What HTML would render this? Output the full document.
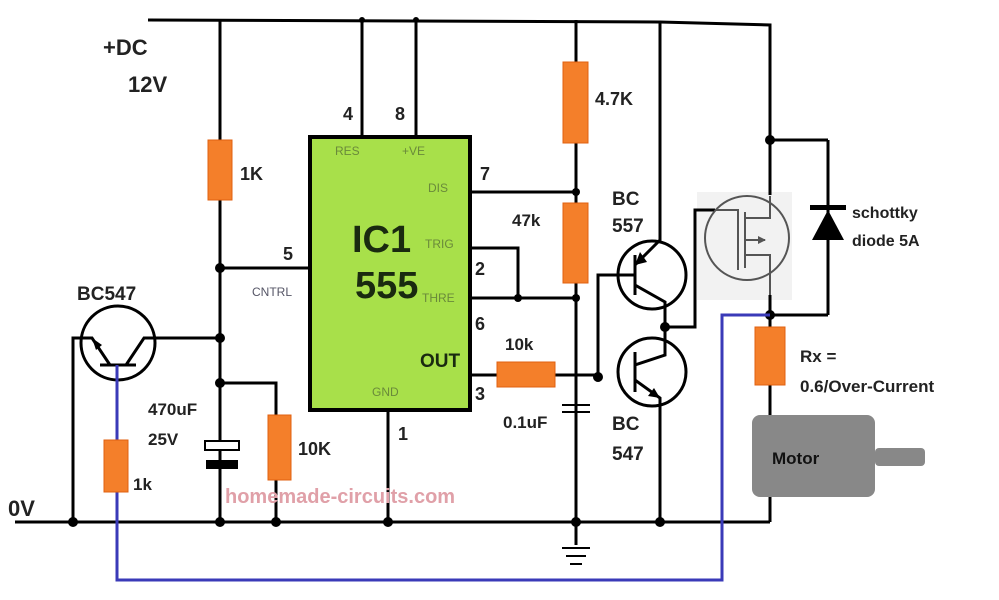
<!DOCTYPE html>
<html><head><style>
body{margin:0;background:#fff}
svg{display:block}
text{font-family:"Liberation Sans",sans-serif;font-weight:bold}
</style></head><body>
<svg width="999" height="600" viewBox="0 0 999 600" xmlns="http://www.w3.org/2000/svg">
<rect width="999" height="600" fill="#fff"/>
<rect x="697" y="192" width="95" height="108" fill="#f2f2f2"/>
<g stroke="#000" stroke-width="3" fill="none">
<polyline points="148,20 660,22 770,25 770,195"/>
<line x1="770" y1="295" x2="770" y2="330"/>
<line x1="770" y1="385" x2="770" y2="522"/>
<line x1="15" y1="522" x2="770" y2="522"/>
<line x1="220" y1="20" x2="220" y2="522"/>
<line x1="362" y1="20" x2="362" y2="137"/>
<line x1="416" y1="20" x2="416" y2="137"/>
<line x1="220" y1="268" x2="310" y2="268"/>
<line x1="470" y1="192" x2="576" y2="192"/>
<polyline points="470,248 518,248 518,298"/>
<line x1="470" y1="298" x2="576" y2="298"/>
<line x1="470" y1="375" x2="600" y2="375"/>
<line x1="388" y1="410" x2="388" y2="522"/>
<line x1="576" y1="20" x2="576" y2="545"/>
<circle cx="118" cy="343" r="37"/>
<line x1="100" y1="365" x2="136" y2="365"/>
<polyline points="110,365 92,338 73,338 73,522"/>
<polyline points="126,365 144,338 220,338"/>
<polyline points="220,383 276,383 276,415"/>
<line x1="276" y1="480" x2="276" y2="522"/>
<circle cx="652" cy="275" r="34"/>
<circle cx="652" cy="372" r="34"/>
<line x1="635" y1="255" x2="635" y2="295"/>
<line x1="635" y1="352" x2="635" y2="392"/>
<polyline points="660,22 660,240 635,265"/>
<polyline points="635,285 665,302 665,355 635,365"/>
<polyline points="635,380 660,398 660,522"/>
<polyline points="665,327 695,327 695,210 715,210"/>
<polyline points="635,275 598,275 598,377"/>
<line x1="770" y1="140" x2="828" y2="140"/>
<line x1="828" y1="140" x2="828" y2="315"/>
<line x1="770" y1="315" x2="828" y2="315"/>
</g>
<g fill="#000">
<circle cx="220" cy="268" r="5"/><circle cx="220" cy="338" r="5"/><circle cx="220" cy="383" r="5"/><circle cx="220" cy="522" r="5"/><circle cx="73" cy="522" r="5"/><circle cx="276" cy="522" r="5"/><circle cx="388" cy="522" r="5"/><circle cx="576" cy="522" r="5"/><circle cx="660" cy="522" r="5"/><circle cx="576" cy="192" r="4"/><circle cx="576" cy="298" r="4"/><circle cx="518" cy="298" r="4"/><circle cx="665" cy="327" r="5"/><circle cx="598" cy="377" r="5"/><circle cx="770" cy="315" r="5"/><circle cx="770" cy="140" r="5"/><circle cx="362" cy="20" r="3"/><circle cx="416" cy="20" r="3"/>
<polygon points="92,338 102,345 96,350"/>
<polygon points="660,398 648,396 654,388"/>
<polygon points="635,265 640,252 647,262"/>
<polygon points="812,240 844,240 828,210"/>
<rect x="810" y="205" width="36" height="5"/>
</g>
<g stroke="#555" stroke-width="2" fill="none">
<circle cx="747" cy="238" r="42"/>
<polyline points="715,210 738,210 738,270"/>
<line x1="745" y1="212" x2="745" y2="268"/>
<polyline points="745,218 770,218 770,196"/>
<polyline points="745,255 770,255 770,295"/>
<line x1="745" y1="240" x2="765" y2="240"/>
</g>
<polygon points="766,240 758,236 758,244" fill="#555"/>
<polyline points="117,365 117,580 722,580 722,315 770,315" stroke="#3a3ab8" stroke-width="3" fill="none"/>
<rect x="310" y="137" width="160" height="273" fill="#a8e04a" stroke="#000" stroke-width="4"/>
<g fill="#6a8a3a" font-size="12">
<text x="335" y="155" style="font-weight:normal">RES</text><text x="402" y="155" style="font-weight:normal">+VE</text>
<text x="428" y="192" style="font-weight:normal">DIS</text><text x="425" y="248" style="font-weight:normal">TRIG</text><text x="422" y="302" style="font-weight:normal">THRE</text><text x="372" y="396" style="font-weight:normal">GND</text>
<text x="252" y="296" fill="#556" style="font-weight:normal">CNTRL</text>
</g>
<text x="352" y="252" font-size="38" fill="#1a2a10">IC1</text>
<text x="355" y="298" font-size="38" fill="#1a2a10">555</text>
<text x="420" y="367" font-size="19" fill="#1a2a10">OUT</text>
<g fill="#f47f2a" stroke="#e06010" stroke-width="1">
<rect x="208" y="140" width="24" height="60"/>
<rect x="563" y="62" width="25" height="81"/>
<rect x="563" y="203" width="25" height="80"/>
<rect x="497" y="362" width="58" height="25"/>
<rect x="104" y="440" width="24" height="52"/>
<rect x="268" y="415" width="23" height="65"/>
<rect x="755" y="327" width="30" height="58"/>
</g>
<rect x="205" y="441" width="34" height="9" fill="#fff" stroke="#000" stroke-width="2"/>
<rect x="206" y="460" width="32" height="9" fill="#000"/>
<g stroke="#000" stroke-width="2">
<line x1="562" y1="405" x2="590" y2="405"/><line x1="562" y1="412" x2="590" y2="412"/>
<line x1="562" y1="548" x2="590" y2="548"/><line x1="566" y1="556" x2="586" y2="556"/><line x1="570" y1="564" x2="582" y2="564"/>
</g>
<rect x="752" y="415" width="123" height="82" rx="8" fill="#888"/>
<rect x="875" y="448" width="50" height="18" rx="4" fill="#888"/>
<text x="772" y="464" font-size="17" fill="#111">Motor</text>
<g fill="#222">
<text x="103" y="55" font-size="22">+DC</text>
<text x="128" y="92" font-size="22">12V</text>
<text x="240" y="180" font-size="18">1K</text>
<text x="343" y="120" font-size="18">4</text><text x="395" y="120" font-size="18">8</text>
<text x="283" y="260" font-size="18">5</text><text x="480" y="180" font-size="18">7</text><text x="475" y="275" font-size="18">2</text><text x="475" y="330" font-size="18">6</text><text x="475" y="400" font-size="18">3</text><text x="398" y="440" font-size="18">1</text>
<text x="595" y="105" font-size="18">4.7K</text>
<text x="512" y="226" font-size="17">47k</text>
<text x="505" y="350" font-size="17">10k</text>
<text x="503" y="428" font-size="17">0.1uF</text>
<text x="612" y="205" font-size="19">BC</text><text x="612" y="232" font-size="19">557</text>
<text x="612" y="430" font-size="19">BC</text><text x="612" y="460" font-size="19">547</text>
<text x="77" y="300" font-size="19">BC547</text>
<text x="148" y="415" font-size="17">470uF</text><text x="148" y="445" font-size="17">25V</text>
<text x="298" y="455" font-size="18">10K</text>
<text x="133" y="490" font-size="17">1k</text>
<text x="8" y="516" font-size="22">0V</text>
<text x="852" y="218" font-size="16">schottky</text><text x="852" y="246" font-size="16">diode 5A</text>
<text x="800" y="362" font-size="17">Rx =</text><text x="800" y="392" font-size="17">0.6/Over-Current</text>
</g>
<text x="225" y="503" font-size="20" fill="#e0a0a8">homemade-circuits.com</text>
</svg>
</body></html>
